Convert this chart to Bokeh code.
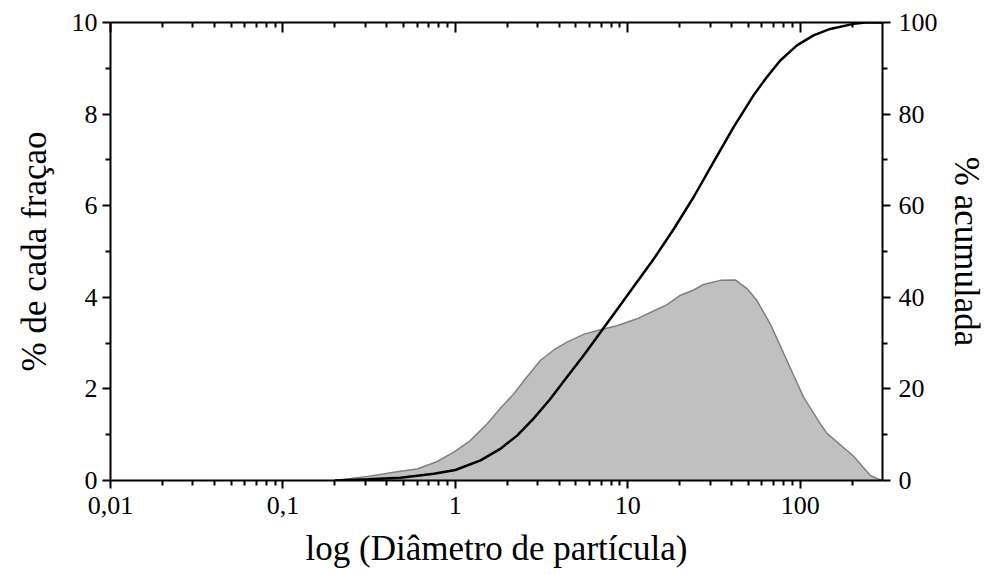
from bokeh.plotting import figure
from bokeh.models import Range1d, LinearAxis, LogAxis, FixedTicker, CustomJSTickFormatter
from bokeh.embed import file_html
from bokeh.resources import INLINE

# particle diameter (x) and % of each fraction (left axis)
diam_frac = [0.2, 0.31, 0.48, 0.6, 0.78, 0.98, 1.22, 1.53, 1.82, 2.18, 2.6, 3.11, 3.72, 4.44,
             5.54, 6.93, 8.65, 11.3, 14.1, 16.9, 20.1, 24.1, 27.5, 34.4, 42, 49.1, 56.1, 67,
             83.7, 104.5, 130.6, 143, 204, 255, 280, 300]
frac = [0.0, 0.09, 0.2, 0.25, 0.41, 0.62, 0.87, 1.24, 1.57, 1.89, 2.26, 2.62, 2.85, 3.02,
        3.19, 3.29, 3.38, 3.53, 3.70, 3.84, 4.04, 4.16, 4.28, 4.37, 4.38, 4.19, 3.93, 3.42,
        2.62, 1.82, 1.24, 1.03, 0.53, 0.11, 0.04, 0.0]

# cumulative % (right axis)
diam_cum = [0.2, 0.31, 0.48, 0.75, 1.0, 1.4, 1.82, 2.28, 2.84, 3.55, 4.44, 5.54, 6.93, 8.65,
            10.8, 14.1, 18.4, 24.1, 31.4, 41.0, 53.6, 64.1, 76.6, 95.7, 119.5,
            149, 204, 240, 300]
cum = [0.0, 0.25, 0.6, 1.46, 2.3, 4.4, 6.9, 9.8, 13.5, 17.8, 22.6, 27.3, 32.3, 37.3,
       42.3, 48.3, 54.8, 61.9, 69.5, 77.1, 84.1, 88.1, 91.7, 95.0, 97.2,
       98.6, 99.7, 100.0, 100.0]

x_major = [0.01, 0.1, 1, 10, 100]
y_left_major = [0, 2, 4, 6, 8, 10]
y_left_minor = [1, 3, 5, 7, 9]
y_right_major = [0, 20, 40, 60, 80, 100]
y_right_minor = [10, 30, 50, 70, 90]
x_minor = [m * d for d in [0.01, 0.1, 1, 10] for m in range(2, 10)] + [200]

FONT = "Liberation Serif"

p = figure(frame_width=772, frame_height=458, x_axis_type="log", x_range=Range1d(0.01, 300),
           y_range=Range1d(0, 10), output_backend="svg", toolbar_location=None,
           min_border_left=110, min_border_right=103, min_border_top=22, min_border_bottom=95)
p.extra_y_ranges = {"right": Range1d(0, 100)}
p.outline_line_color = None
p.grid.visible = False
p.background_fill_color = "white"
p.border_fill_color = "white"

p.varea(x=diam_frac, y1=[0] * len(frac), y2=frac, fill_color="#c0c0c0")
p.line(diam_frac, frac, line_color="#808080", line_width=1.5)
p.line(diam_cum, cum, line_color="black", line_width=2.5, y_range_name="right")

fmt = CustomJSTickFormatter(code="return String(tick).replace('.', ',');")


def style(ax, out=True):
    ax.axis_line_width = 2
    ax.axis_line_color = "black"
    ax.major_tick_line_width = 2
    ax.minor_tick_line_width = 2
    ax.major_tick_line_color = "black"
    ax.minor_tick_line_color = "black"
    if out:
        ax.major_tick_out = 8
        ax.major_tick_in = 0
        ax.minor_tick_out = 5
        ax.minor_tick_in = 0
    else:
        ax.major_tick_out = 0
        ax.major_tick_in = 10
        ax.minor_tick_out = 0
        ax.minor_tick_in = 5
    ax.major_label_text_font = FONT
    ax.major_label_text_font_size = "26px"
    ax.major_label_text_color = "black"
    ax.axis_label_text_font = FONT
    ax.axis_label_text_font_size = "35px"
    ax.axis_label_text_font_style = "normal"
    ax.axis_label_text_color = "black"


xa = p.xaxis[0]
xa.ticker = FixedTicker(ticks=x_major, minor_ticks=x_minor)
xa.formatter = fmt
xa.axis_label = "log (Diâmetro de partícula)"
style(xa)
xa.major_label_standoff = 8
xa.axis_label_standoff = 12

ya = p.yaxis[0]
ya.ticker = FixedTicker(ticks=y_left_major, minor_ticks=y_left_minor)
ya.axis_label = "% de cada fraçao"
style(ya)
ya.major_label_standoff = 5
ya.axis_label_standoff = 15

ra = LinearAxis(y_range_name="right", ticker=FixedTicker(ticks=y_right_major, minor_ticks=y_right_minor),
                axis_label="% acumulada")
style(ra)
ra.major_label_standoff = 8
ra.axis_label_standoff = 6
p.add_layout(ra, "right")

ta = LogAxis(ticker=FixedTicker(ticks=x_major, minor_ticks=x_minor))
style(ta, out=False)
ta.major_label_text_font_size = "1px"
ta.major_label_text_alpha = 0
ta.major_label_standoff = 0
p.add_layout(ta, "above")

open("out.html", "w").write(file_html(p, INLINE))
